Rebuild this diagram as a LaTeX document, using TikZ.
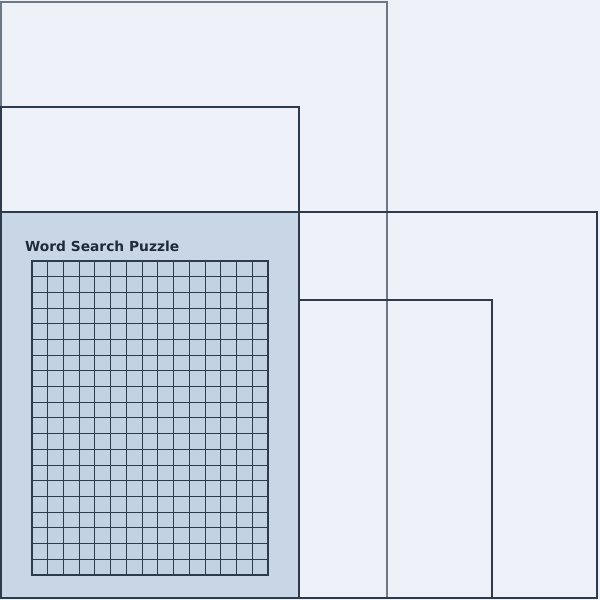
\documentclass[tikz,border=0pt]{standalone}
\usepackage{fontspec}
\setmainfont{DejaVu Sans}
\usepackage{tikz}
\usetikzlibrary{positioning}
\definecolor{pagebg}{HTML}{EEF2F8}
\definecolor{panelfill}{HTML}{C8D6E5}
\definecolor{gridfill}{HTML}{C3D2E2}
\definecolor{darkline}{HTML}{2E3B4C}
\definecolor{softline}{HTML}{6E7784}
\definecolor{titleink}{HTML}{1F2B3C}

\begin{document}
\begin{tikzpicture}[x=1pt, y=1pt,
    outerbox/.style={draw=softline, line width=1.4pt},
    innerbox/.style={draw=darkline, line width=1.5pt},
    gridline/.style={draw=darkline, line width=1pt}]
    % page
    \fill[pagebg] (0,0) rectangle (600,600);
    \useasboundingbox (0,0) rectangle (600,600);

    % nested panels
    \draw[outerbox] (1,2) rectangle (387,598);
    \draw[innerbox] (1,2) rectangle (299,493);
    \draw[innerbox, fill=panelfill] (1,2) rectangle (299,388);
    \draw[innerbox] (299,2) rectangle (597,388);
    \draw[innerbox] (299,2) rectangle (492,300);

    % puzzle title and grid
    \node[anchor=base west, inner sep=0pt, text=titleink, font=\bfseries\fontsize{13.8}{16}\selectfont] (title) at (25,348) {Word Search Puzzle};
    \fill[gridfill] (32,25) rectangle (268,339);
    \draw[gridline, xstep=15.7333, ystep=15.7, shift={(32,25)}] (0,0) grid (236,314);
    \draw[innerbox] (32,25) rectangle (268,339);
\end{tikzpicture}
\end{document}
